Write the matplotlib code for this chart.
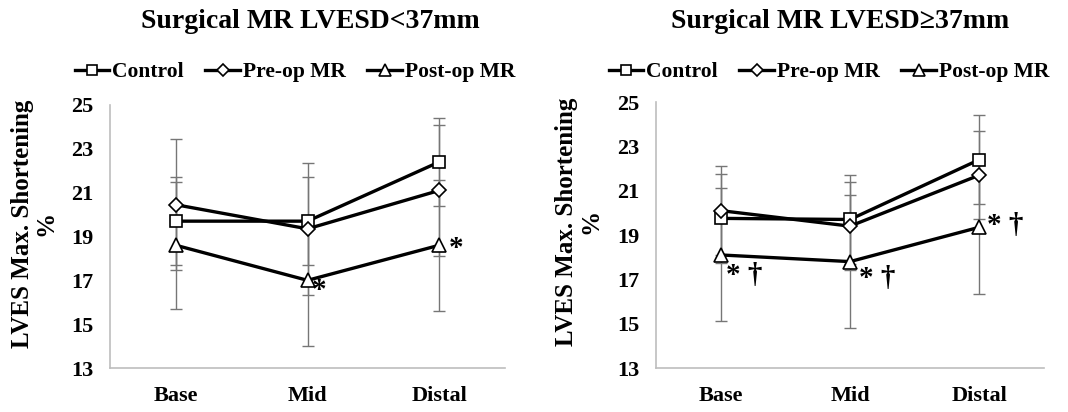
import matplotlib
matplotlib.use('Agg')
import matplotlib.pyplot as plt

plt.rcParams['font.family'] = ['Liberation Serif', 'DejaVu Serif']
plt.rcParams['font.weight'] = 'bold'
plt.rcParams['axes.labelweight'] = 'bold'

#%% data
categories = ['Base', 'Mid', 'Distal']
series_names = ['Control', 'Pre-op MR', 'Post-op MR']

# LVESD < 37 mm
small_control = [19.7, 19.7, 22.4]
small_control_sd = [2.0, 2.0, 2.0]
small_preop = [20.45, 19.35, 21.1]
small_preop_sd = [3.0, 3.0, 3.0]
small_postop = [18.6, 17.0, 18.6]
small_postop_sd = [2.9, 3.0, 3.0]

# LVESD >= 37 mm
large_control = [19.75, 19.7, 22.4]
large_control_sd = [2.0, 2.0, 2.0]
large_preop = [20.1, 19.4, 21.7]
large_preop_sd = [2.0, 2.0, 2.0]
large_postop = [18.1, 17.8, 19.35]
large_postop_sd = [3.0, 3.0, 3.0]

# significance marks on the post-op series: (category index, text)
small_marks = [(1, '*'), (2, '*')]
large_marks = [(0, '* \u2020'), (1, '* \u2020'), (2, '* \u2020')]

#%%
markers = [('s', 9), ('D', 7.5), ('^', 10)]
mark_offsets_small = {1: (12, -10), 2: (17, -3)}
mark_offsets_large = {0: (24, -21), 1: (27, -17), 2: (26, 2)}


def draw_panel(ax, series, errors, marks, offsets, title, title_x, legend_x, label_x):
    x = range(len(categories))
    handles = []
    for (mk, ms), y, e, name in zip(markers, series, errors, series_names):
        ax.errorbar(x, y, yerr=e, fmt='none', ecolor='#767676', elinewidth=1.0,
                    capsize=4, capthick=1.0, zorder=2)
        h, = ax.plot(x, y, color='black', lw=2.4, marker=mk, markersize=ms,
                     markerfacecolor='white', markeredgecolor='black',
                     markeredgewidth=1.2, zorder=3, label=name)
        handles.append(h)

    post = series[2]
    for i, txt in marks:
        dx, dy = offsets[i]
        ax.annotate(txt, (i, post[i]), xytext=(dx, dy), textcoords='offset pixels',
                    ha='center', va='center', fontsize=21)

    ax.set_xlim(-0.5, 2.5)
    ax.set_ylim(13, 25)
    ax.set_yticks(range(13, 26, 2))
    ax.set_xticks(list(x))
    ax.set_xticklabels(categories)
    ax.tick_params(axis='both', length=0, labelsize=16)
    ax.tick_params(axis='x', pad=13)
    ax.tick_params(axis='y', pad=12)
    for s in ['top', 'right']:
        ax.spines[s].set_visible(False)
    for s in ['left', 'bottom']:
        ax.spines[s].set_color('#bdbdbd')
        ax.spines[s].set_linewidth(1.2)

    ax.set_ylabel('LVES Max. Shortening\n%', fontsize=18, linespacing=1.05)
    ax.yaxis.set_label_coords(label_x, 0.55)

    fig = ax.figure
    fig.text(title_x, 1 - 21 / 412, title, ha='center', va='center', fontsize=20)
    leg = ax.legend(handles=handles, loc='center', ncol=3, frameon=False,
                    bbox_to_anchor=(legend_x, 1 - 72 / 412),
                    bbox_transform=fig.transFigure, fontsize=15.5,
                    handlelength=1.6, handletextpad=0.15, columnspacing=1.0,
                    markerscale=0.8, borderaxespad=0)
    for line in leg.get_lines():
        line.set_linewidth(2.4)


fig = plt.figure(figsize=(10.68, 4.12), dpi=100)
ax1 = fig.add_axes([110 / 1068, 1 - 368 / 412, 395 / 1068, 263 / 412])
ax2 = fig.add_axes([656 / 1068, 1 - 368 / 412, 388 / 1068, 266 / 412])

draw_panel(ax1, [small_control, small_preop, small_postop],
           [small_control_sd, small_preop_sd, small_postop_sd],
           small_marks, mark_offsets_small,
           'Surgical MR LVESD<37mm', 310 / 1068, 295 / 1068, -0.132)
draw_panel(ax2, [large_control, large_preop, large_postop],
           [large_control_sd, large_preop_sd, large_postop_sd],
           large_marks, mark_offsets_large,
           'Surgical MR LVESD\u226537mm', 840 / 1068, 829 / 1068, -0.139)

fig.savefig('out.png', dpi=100)
